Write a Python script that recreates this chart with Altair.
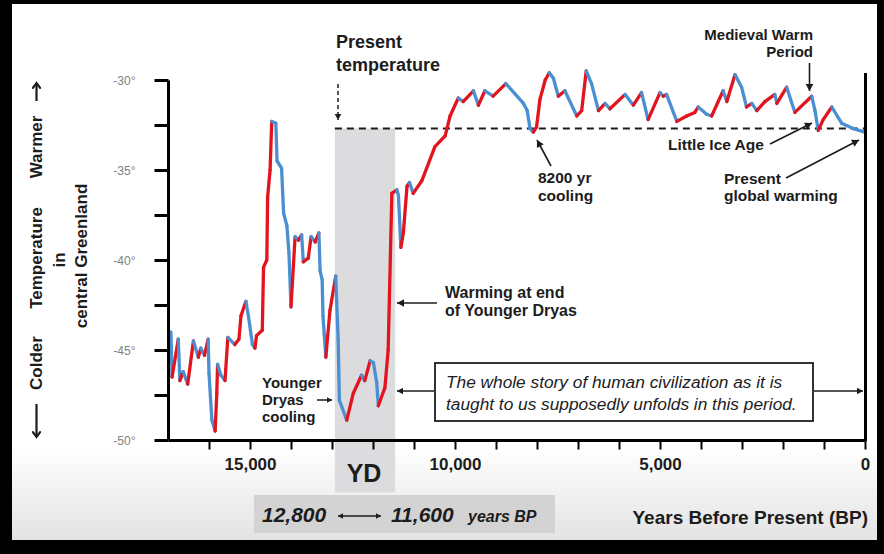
import math
import altair as alt
import pandas as pd

# ---------------- data ----------------
years = [16930, 16900, 16750, 16710, 16630, 16520, 16380, 16260, 16200, 16110,
         16020, 16000, 15930, 15850, 15810, 15790, 15710, 15610, 15540, 15370,
         15270, 15220, 15100, 15040, 14940, 14880, 14840, 14700, 14670, 14590,
         14570, 14510, 14470, 14370, 14340, 14230, 14180, 14100, 14050, 14000,
         13900, 13820, 13740, 13700, 13580, 13510, 13410, 13320, 13290, 13240,
         13220, 13190, 13150, 13050, 12910, 12850, 12820, 12640, 12480, 12280,
         12200, 12070, 11990, 11910, 11870, 11710, 11630, 11540, 11420, 11380,
         11320, 11260, 11170, 11110, 11020, 10810, 10490, 10240, 10120, 9920,
         9800, 9550, 9430, 9270, 9070, 8760, 8330, 8240, 8170, 8090,
         8010, 7930, 7800, 7700, 7600, 7480, 7320, 7030, 6910, 6800,
         6670, 6500, 6340, 6220, 5850, 5650, 5450, 5290, 5000, 4920,
         4840, 4590, 4350, 4150, 4070, 3860, 3740, 3460, 3370, 3170,
         3010, 2890, 2760, 2640, 2440, 2200, 2150, 1910, 1710, 1300,
         1220, 1140, 1020, 810, 570, 290, 0]
temps = [-44.0, -46.5, -44.4, -46.7, -46.2, -46.9, -44.5, -45.4, -44.9, -45.3,
         -44.4, -46.3, -48.9, -49.5, -47.4, -45.8, -46.4, -46.7, -44.3, -44.7,
         -44.4, -43.1, -42.3, -43.1, -44.7, -44.9, -44.2, -43.9, -40.4, -40.0,
         -36.5, -35.0, -32.3, -32.4, -34.5, -34.9, -37.4, -38.1, -39.6, -42.6,
         -38.7, -38.9, -38.6, -40.1, -39.9, -38.7, -39.0, -38.5, -40.6, -41.1,
         -43.1, -44.1, -45.4, -42.8, -40.9, -44.4, -47.8, -48.9, -47.4, -46.4,
         -46.7, -45.6, -45.7, -46.8, -48.1, -47.1, -45.0, -36.3, -36.1, -36.4,
         -39.3, -38.5, -35.9, -35.7, -36.3, -35.6, -33.7, -33.1, -32.0, -31.0,
         -31.2, -30.6, -31.4, -30.6, -30.9, -30.2, -31.3, -31.7, -32.7, -32.9,
         -32.6, -31.1, -30.0, -29.6, -29.9, -30.9, -30.6, -32.0, -31.7, -29.5,
         -30.2, -31.7, -31.3, -31.6, -30.8, -31.4, -30.7, -32.2, -30.7, -30.9,
         -30.8, -32.3, -32.0, -31.8, -31.5, -31.9, -32.0, -30.6, -31.2, -29.7,
         -30.4, -31.5, -31.3, -31.7, -31.2, -30.8, -31.3, -30.4, -31.8, -30.9,
         -31.7, -32.8, -32.2, -31.5, -32.4, -32.7, -32.9]

x_tick_values = list(range(0, 17000, 1000))
y_tick_values = [-50, -47.5, -45, -42.5, -40, -37.5, -35, -32.5, -30]
present_temp = -32.7
yd_start, yd_end = 12930, 11460   # shaded Younger Dryas band (years BP)
yd_band_bottom = -52.9

RED = "#e2141d"
BLUE = "#4a8fd2"
INK = "#1c1c1c"
FONT = "Liberation Sans"

# ---------------- layout ----------------
W, H = 697, 360
PL, PT, PR, PB = 168, 80, 19, 114

xs = alt.Scale(domain=[0, 17000], reverse=True, nice=False, zero=False)
ys = alt.Scale(domain=[-50, -30], nice=False, zero=False)

x_axis = alt.Axis(values=x_tick_values, title=None, grid=False,
                  labelExpr="datum.value % 5000 == 0 ? format(datum.value, ',') : ''",
                  labelFont=FONT, labelFontSize=17, labelFontWeight="bold",
                  labelColor=INK, labelPadding=7, labelFlush=False, labelOverlap=False,
                  tickSize=9, tickWidth=2, tickColor="#000000",
                  domainWidth=3, domainColor="#000000", zindex=1)
y_axis = alt.Axis(values=y_tick_values, title=None, grid=False,
                  labelExpr="datum.value % 5 == 0 ? datum.value + '°' : ''",
                  labelFont="Liberation Sans Narrow, Liberation Sans", labelFontSize=12,
                  labelColor="#808080", labelPadding=19, labelOverlap=False,
                  tickSize=14, tickWidth=3, tickColor="#000000",
                  domainWidth=3, domainColor="#000000", zindex=1)

one = pd.DataFrame({"k": [0]})

seg = pd.DataFrame({"yr": years[:-1], "yr2": years[1:],
                    "t": temps[:-1], "t2": temps[1:]})
seg["dir"] = ["up" if b > a else "down" for a, b in zip(temps[:-1], temps[1:])]


def px(v):
    return alt.value(v - PL)


def py(v):
    return alt.value(v - PT)


def text(x, y, txt, size=15, weight="bold", style="normal", align="left",
         baseline="middle", angle=None, color=INK, font=FONT):
    kw = dict(text=txt, fontSize=size, fontWeight=weight, fontStyle=style,
              align=align, baseline=baseline, color=color, font=font)
    if angle is not None:
        kw["angle"] = angle
    return alt.Chart(one).mark_text(**kw).encode(x=px(x), y=py(y))


HEAD = "M0,0 L-0.55,1 L0.55,1 Z"
CHEV = "M-0.6,0.8 L0,0 L0.6,0.8"


def head_at(xa, ya, dx, dy, size, color=INK, shape=HEAD, filled=True, sw=2):
    ang = math.degrees(math.atan2(dx, -dy)) % 360
    kw = dict(shape=shape, size=(2 * size) ** 2, angle=ang, opacity=1)
    if filled:
        kw.update(filled=True, fill=color, strokeWidth=0)
    else:
        kw.update(filled=False, stroke=color, strokeWidth=sw, strokeCap="round",
                  strokeJoin="miter")
    return alt.Chart(one).mark_point(**kw).encode(x=px(xa), y=py(ya))


def arrow(x1, y1, x2, y2, width=1.6, head=7, color=INK, both=False, dash=None,
          shape=HEAD, filled=True):
    rk = dict(stroke=color, strokeWidth=width)
    if dash:
        rk["strokeDash"] = dash
    out = [alt.Chart(one).mark_rule(**rk).encode(
        x=px(x1), y=py(y1), x2=px(x2), y2=py(y2))]
    out.append(head_at(x2, y2, x2 - x1, y2 - y1, head, color, shape, filled, width))
    if both:
        out.append(head_at(x1, y1, x1 - x2, y1 - y2, head, color, shape, filled, width))
    return out


def box(x1, y1, x2, y2, **kw):
    return alt.Chart(one).mark_rect(**kw).encode(
        x=px(x1), x2=px(x2), y=py(y1), y2=py(y2))


layers = []

# frame / background
layers.append(box(12, 4, 877, 540, fill="#ffffff"))
layers.append(box(12, 446, 877, 540, fill={
    "gradient": "linear", "x1": 0, "y1": 0, "x2": 0, "y2": 1,
    "stops": [{"offset": 0, "color": "#ffffff"}, {"offset": 1, "color": "#e3e3e3"}]}))

# temperature curve (coloured by warming / cooling) -- carries the axes
curve = alt.Chart(seg).mark_rule(strokeWidth=3.3, strokeCap="round").encode(
    x=alt.X("yr:Q", scale=xs, axis=x_axis), x2="yr2:Q",
    y=alt.Y("t:Q", scale=ys, axis=y_axis), y2="t2:Q",
    color=alt.Color("dir:N", scale=alt.Scale(domain=["up", "down"], range=[RED, BLUE]),
                    legend=None))

# Younger Dryas band (data coordinates)
layers.append(alt.Chart(one).mark_rect(color="#dcdcdf").encode(
    x=alt.X(datum=yd_start, scale=xs, axis=x_axis), x2=alt.X2(datum=yd_end),
    y=alt.Y(datum=present_temp, scale=ys, axis=y_axis), y2=alt.Y2(datum=yd_band_bottom)))
layers.append(box(254, 495, 555, 533, fill="#d3d3d3"))

# present temperature dashed line
layers.append(alt.Chart(one).mark_rule(color=INK, strokeWidth=2, strokeDash=[7, 5]).encode(
    x=alt.X(datum=yd_start, scale=xs, axis=x_axis), x2=alt.X2(datum=0),
    y=alt.Y(datum=present_temp, scale=ys, axis=y_axis)))

layers.append(curve)

# right-hand frame line
layers.append(alt.Chart(one).mark_rule(color="#000000", strokeWidth=3).encode(
    x=px(865.5), y=py(73), y2=py(441)))

# y-axis description
layers += arrow(36.5, 101, 36.5, 83, width=2.2, head=6, shape=CHEV, filled=False)
layers += arrow(36.5, 404, 36.5, 437, width=2.2, head=6, shape=CHEV, filled=False)
layers.append(text(36.5, 147, "Warmer", size=17, align="center", angle=270))
layers.append(text(36.5, 258, "Temperature", size=17, align="center", angle=270))
layers.append(text(36.5, 363, "Colder", size=17, align="center", angle=270))
layers.append(text(59.5, 260, "in", size=17, align="center", angle=270))
layers.append(text(81.5, 256, "central Greenland", size=17, align="center", angle=270))

# present temperature
layers.append(text(336, 43, "Present", size=18))
layers.append(text(336, 66, "temperature", size=18))
layers += arrow(338, 84, 338, 120, width=1.5, head=6, dash=[4, 3])

# Medieval Warm Period
layers.append(text(813, 35, "Medieval Warm", size=15, align="right"))
layers.append(text(813, 52, "Period", size=15, align="right"))
layers += arrow(809.5, 63, 809.5, 91, width=1.6, head=7)

# Little Ice Age
layers.append(text(668, 145, "Little Ice Age", size=15.5))
layers += arrow(770, 144, 812, 123, width=1.6, head=7)

# Present global warming
layers.append(text(724, 179, "Present", size=15.5))
layers.append(text(724, 196, "global warming", size=15.5))
layers += arrow(786, 178, 859, 140, width=1.6, head=7)

# 8200 yr cooling
layers.append(text(538, 178, "8200 yr", size=15.5))
layers.append(text(538, 196, "cooling", size=15.5))
layers += arrow(551, 166, 537, 140, width=1.6, head=7)

# Warming at end of Younger Dryas
layers.append(text(445, 293, "Warming at end", size=16))
layers.append(text(445, 311, "of Younger Dryas", size=16))
layers += arrow(437, 303, 397, 303, width=1.6, head=7)

# Younger Dryas cooling
layers.append(text(262, 383, "Younger", size=15))
layers.append(text(262, 400, "Dryas", size=15))
layers.append(text(262, 417, "cooling", size=15))
layers += arrow(317, 400, 332, 400, width=1.5, head=5)

# civilization box
layers += arrow(397, 391, 863, 391, width=1.5, head=6, both=True)
layers.append(box(435, 363, 813, 421, fill="#ffffff", stroke="#333333", strokeWidth=2))
layers.append(text(446, 383, "The whole story of human civilization as it is",
                   size=17.3, weight="normal", style="italic"))
layers.append(text(446, 405, "taught to us supposedly unfolds in this period.",
                   size=17.3, weight="normal", style="italic"))

# bottom labels
layers.append(text(364, 474, "YD", size=25, align="center"))
layers.append(text(262, 522, "12,800", size=21, style="italic", baseline="alphabetic"))
layers += arrow(338, 516, 381, 516, width=1.5, head=5, both=True)
layers.append(text(391, 522, "11,600", size=21, style="italic", baseline="alphabetic"))
layers.append(text(468, 522, "years BP", size=16, style="italic", baseline="alphabetic"))
layers.append(text(868, 524, "Years Before Present (BP)", size=19, align="right",
                   baseline="alphabetic"))

chart = alt.layer(*layers).properties(
    width=W, height=H,
    padding={"left": PL, "top": PT, "right": PR, "bottom": PB},
    autosize=alt.AutoSizeParams(type="none"),
    background="#000000",
).configure_view(stroke=None)

chart.save("out.html", embed_options={"renderer": "svg", "actions": False})
